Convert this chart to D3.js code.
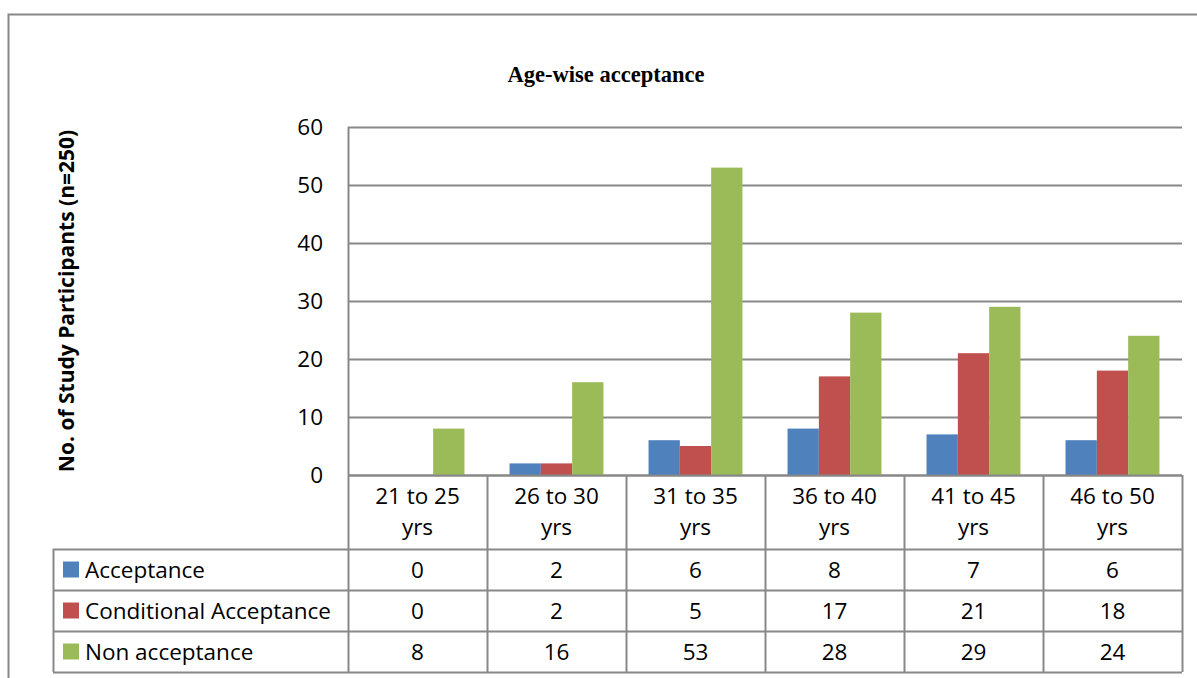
<!DOCTYPE html>
<html>
<head>
<meta charset="utf-8">
<script src="https://cdn.jsdelivr.net/npm/d3@7"></script>
<style>
  body { margin: 0; background: #fff; }
  text { font-family: "Open Sans", "Noto Sans", sans-serif; fill: #000; }
</style>
</head>
<body>
<div id="chart"></div>
<script>
// data
var categories = ["21 to 25|yrs", "26 to 30|yrs", "31 to 35|yrs", "36 to 40|yrs", "41 to 45|yrs", "46 to 50|yrs"];
var seriesNames = ["Acceptance", "Conditional Acceptance", "Non acceptance"];
var acceptance = [0, 2, 6, 8, 7, 6];
var conditional = [0, 2, 5, 17, 21, 18];
var nonAcceptance = [8, 16, 53, 28, 29, 24];
var yTicks = [0, 10, 20, 30, 40, 50, 60];
var colors = ["#4F81BD", "#C0504D", "#9BBB59"];

var series = [acceptance, conditional, nonAcceptance];

var W = 1197, H = 678;
var plot = {left: 348, right: 1182, top: 127, bottom: 475};
var gridColor = "#888";
var fs = "22.5px";

var svg = d3.select("#chart").append("svg")
  .attr("width", W)
  .attr("height", H);

// outer frame (runs off right and bottom edges)
svg.append("path")
  .attr("d", "M8.5," + (H + 5) + "V14.5H" + (W + 5))
  .attr("fill", "none")
  .attr("stroke", gridColor)
  .attr("stroke-width", 2);

svg.append("text")
  .attr("x", 606)
  .attr("y", 82)
  .attr("text-anchor", "middle")
  .style("font-family", "'Liberation Serif', serif")
  .style("font-weight", "bold")
  .style("font-size", "22.5px")
  .text("Age-wise acceptance");

var x = d3.scaleBand()
  .domain(d3.range(categories.length))
  .range([plot.left, plot.right]);

var x1 = d3.scaleBand()
  .domain(d3.range(series.length))
  .range([0, x.bandwidth()])
  .paddingOuter(0.72);

var y = d3.scaleLinear()
  .domain([0, 60])
  .range([plot.bottom, plot.top]);

// gridlines
svg.append("g")
  .selectAll("line")
  .data(yTicks)
  .enter()
  .append("line")
  .attr("x1", plot.left)
  .attr("x2", plot.right)
  .attr("y1", function(d) { return Math.round(y(d)) + 0.5; })
  .attr("y2", function(d) { return Math.round(y(d)) + 0.5; })
  .attr("stroke", gridColor)
  .attr("stroke-width", 2);

// y axis line
svg.append("line")
  .attr("x1", plot.left + 0.5).attr("x2", plot.left + 0.5)
  .attr("y1", plot.top).attr("y2", plot.bottom)
  .attr("stroke", gridColor)
  .attr("stroke-width", 2);

// y tick labels
svg.append("g")
  .selectAll("text")
  .data(yTicks)
  .enter()
  .append("text")
  .attr("x", 323)
  .attr("y", function(d) { return y(d); })
  .attr("dy", "0.35em")
  .attr("text-anchor", "end")
  .style("font-size", fs)
  .text(function(d) { return d; });

svg.append("text")
  .attr("transform", "translate(74,301) rotate(-90)")
  .attr("text-anchor", "middle")
  .style("font-size", "21px")
  .style("font-weight", "bold")
  .text("No. of Study Participants (n=250)");

// bars
svg.append("g")
  .selectAll("g")
  .data(series)
  .enter()
  .append("g")
  .attr("fill", function(d, i) { return colors[i]; })
  .each(function(vals, si) {
    d3.select(this).selectAll("rect")
      .data(vals)
      .enter()
      .append("rect")
      .attr("x", function(d, ci) { return x(ci) + x1(si); })
      .attr("width", x1.bandwidth())
      .attr("y", function(d) { return y(d); })
      .attr("height", function(d) { return plot.bottom - y(d); });
  });

// data table
var rowTops = [475, 549, 590, 631, 672];
var tableLeft = 53;
var tbl = svg.append("g")
  .attr("stroke", gridColor)
  .attr("stroke-width", 2)
  .attr("fill", "none");

rowTops.forEach(function(r, i) {
  tbl.append("line")
    .attr("x1", i === 0 ? plot.left : tableLeft)
    .attr("x2", plot.right)
    .attr("y1", r + 0.5).attr("y2", r + 0.5);
});
tbl.append("line")
  .attr("x1", tableLeft + 0.5).attr("x2", tableLeft + 0.5)
  .attr("y1", rowTops[1]).attr("y2", rowTops[4]);
d3.range(categories.length + 1).forEach(function(i) {
  var xx = i < categories.length ? x(i) : plot.right;
  tbl.append("line")
    .attr("x1", xx + 0.5).attr("x2", xx + 0.5)
    .attr("y1", plot.bottom).attr("y2", rowTops[4]);
});

// category labels
var catLab = svg.append("g")
  .selectAll("text")
  .data(categories)
  .enter()
  .append("text")
  .attr("text-anchor", "middle")
  .style("font-size", fs);
catLab.each(function(d, i) {
  var parts = d.split("|");
  var cx = x(i) + x.bandwidth() / 2;
  d3.select(this).append("tspan").attr("x", cx).attr("y", 504).text(parts[0]);
  d3.select(this).append("tspan").attr("x", cx).attr("y", 535).text(parts[1]);
});

// legend rows + values
seriesNames.forEach(function(name, si) {
  var mid = (rowTops[si + 1] + rowTops[si + 2]) / 2;
  svg.append("rect")
    .attr("x", 63)
    .attr("y", mid - 8)
    .attr("width", 16)
    .attr("height", 16)
    .attr("fill", colors[si]);
  svg.append("text")
    .attr("x", 85)
    .attr("y", mid)
    .attr("dy", "0.36em")
    .style("font-size", fs)
    .text(name);
  svg.append("g")
    .selectAll("text")
    .data(series[si])
    .enter()
    .append("text")
    .attr("x", function(d, ci) { return x(ci) + x.bandwidth() / 2; })
    .attr("y", mid)
    .attr("dy", "0.36em")
    .attr("text-anchor", "middle")
    .style("font-size", fs)
    .text(function(d) { return d; });
});
</script>
</body>
</html>
